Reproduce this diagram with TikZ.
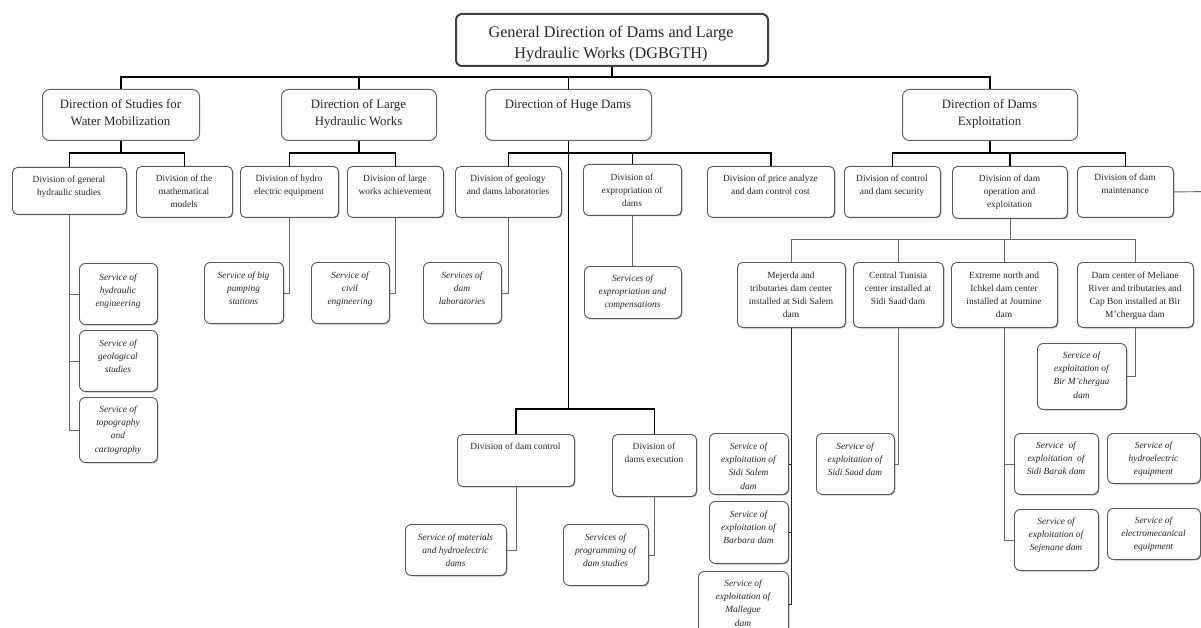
\documentclass[tikz,border=0pt]{standalone}
\usepackage{fontspec}
\setmainfont{Liberation Serif}
\usetikzlibrary{shadows}
\tikzset{
  bx/.style={rounded corners=5pt, fill=white, draw=black!65, line width=0.9pt, inner sep=0pt, anchor=north west},
  topbox/.style={bx, draw=black!75, line width=2pt, rounded corners=6pt},
  dirbox/.style={bx, draw=black!60, line width=1pt, rounded corners=7pt},
  divbox/.style={bx, drop shadow={shadow xshift=0.8pt, shadow yshift=-0.8pt, fill=black!60, opacity=0.8}},
  svcbox/.style={bx, rounded corners=6pt, drop shadow={shadow xshift=0.8pt, shadow yshift=-0.8pt, fill=black!60, opacity=0.8}},
  toptxt/.style={font=\fontsize{16.2}{21}\selectfont, yshift=5.6pt},
  dirtxt/.style={font=\fontsize{12.8}{17}\selectfont, yshift=4.5pt},
  divtxt/.style={font=\fontsize{9.4}{13}\selectfont, yshift=3.3pt},
  svctxt/.style={font=\fontsize{9.4}{13.2}\selectfont\itshape, yshift=3.3pt},
  bus/.style={line width=1.6pt, black},
  sub/.style={line width=1.3pt, black},
  thin/.style={line width=0.9pt, black!60},
}
\newcommand{\orgbox}[9]{%
  \node[#6, minimum width={#4pt-#2pt}, minimum height={#5pt-#3pt}] (#1) at (#2,#3) {};
  \node[#7, anchor=north, align=center, inner sep=0pt, text=black!85] (#1t) at ({(#2+#4)/2},#8) {#9};
}
\begin{document}
\begin{tikzpicture}[x=1pt,y=-1pt]
\fill[white] (0,0) rectangle (1201,628);
\useasboundingbox (0,0) rectangle (1201,628);

% top
\orgbox{top}{455}{13}{767}{65}{topbox}{toptxt}{31}{General Direction of Dams and Large\\Hydraulic Works (DGBGTH)}

% directions
\orgbox{d1}{42}{89}{199}{140}{dirbox}{dirtxt}{104}{Direction of Studies for\\Water Mobilization}
\orgbox{d2}{281}{89}{436}{140}{dirbox}{dirtxt}{104}{Direction of Large\\Hydraulic Works}
\orgbox{d3}{485}{89}{651}{140}{dirbox}{dirtxt}{104}{Direction of Huge Dams}
\orgbox{d4}{902}{89}{1077}{140}{dirbox}{dirtxt}{104}{Direction of Dams\\Exploitation}

% divisions
\orgbox{dv1}{12}{167}{126}{214}{divbox}{divtxt}{179}{Division of general\\hydraulic studies}
\orgbox{dv2}{136}{166}{232}{217}{divbox}{divtxt}{178}{Division of the\\mathematical\\models}
\orgbox{dv3}{240}{166}{338}{217}{divbox}{divtxt}{178}{Division of hydro\\electric equipment}
\orgbox{dv4}{347}{166}{443}{217}{divbox}{divtxt}{178}{Division of large\\works achievement}
\orgbox{dv5}{455}{166}{561}{217}{divbox}{divtxt}{178}{Division of geology\\and dams laboratories}
\orgbox{dv6}{583}{164}{681}{215}{divbox}{divtxt}{177}{Division of\\expropriation of\\dams}
\orgbox{dv7}{707}{166}{834}{217}{divbox}{divtxt}{178}{Division of price analyze\\and dam control cost}
\orgbox{dv8}{844}{166}{940}{217}{divbox}{divtxt}{178}{Division of control\\and dam security}
\orgbox{dv9}{952}{166}{1067}{218}{divbox}{divtxt}{178}{Division of dam\\operation and\\exploitation}
\orgbox{dv10}{1077}{166}{1173}{217}{divbox}{divtxt}{177}{Division of dam\\maintenance}
\orgbox{dv11}{457}{434}{574}{486}{divbox}{divtxt}{446}{Division of dam control}
\orgbox{dv12}{612}{434}{696}{496}{divbox}{divtxt}{446}{Division of\\dams execution}

% dam centers
\orgbox{c1}{737}{262}{845}{327}{divbox}{divtxt}{275}{Mejerda and\\tributaries dam center\\installed at Sidi Salem\\dam}
\orgbox{c2}{853}{262}{943}{327}{divbox}{divtxt}{275}{Central Tunisia\\center installed at\\Sidi Saad dam}
\orgbox{c3}{951}{262}{1057}{327}{divbox}{divtxt}{275}{Extreme north and\\Ichkel dam center\\installed at Joumine\\dam}
\orgbox{c4}{1077}{262}{1193}{327}{divbox}{divtxt}{275}{Dam center of Meliane\\River and tributaries and\\Cap Bon installed at Bir\\M'chergua dam}

% services
\orgbox{s1}{79}{263}{157}{324}{svcbox}{svctxt}{277}{Service of\\hydraulic\\engineering}
\orgbox{s2}{79}{330}{157}{391}{svcbox}{svctxt}{343}{Service of\\geological\\studies}
\orgbox{s3}{79}{397}{157}{462}{svcbox}{svctxt}{409}{Service of\\topography\\and\\cartography}
\orgbox{s4}{204}{262}{283}{323}{svcbox}{svctxt}{275}{Service of big\\pumping\\stations}
\orgbox{s5}{311}{262}{389}{323}{svcbox}{svctxt}{275}{Service of\\civil\\engineering}
\orgbox{s6}{423}{262}{501}{323}{svcbox}{svctxt}{275}{Services of\\dam\\laboratories}
\orgbox{s7}{584}{266}{681}{318}{svcbox}{svctxt}{278}{Services of\\expropriation and\\compensations}
\orgbox{s8}{405}{524}{506}{575}{svcbox}{svctxt}{537}{Service of materials\\and hydroelectric\\dams}
\orgbox{s9}{563}{524}{648}{585}{svcbox}{svctxt}{537}{Services of\\programming of\\dam studies}
\orgbox{s10}{709}{433}{788}{494}{svcbox}{svctxt}{446}{Service of\\exploitation of\\Sidi Salem\\dam}
\orgbox{s11}{709}{501}{788}{563}{svcbox}{svctxt}{514}{Service of\\exploitation of\\Barbara dam}
\orgbox{s12}{698}{571}{788}{636}{svcbox}{svctxt}{583}{Service of\\exploitation of\\Mallegue\\dam}
\orgbox{s13}{816}{433}{894}{494}{svcbox}{svctxt}{446}{Service of\\exploitation of\\Sidi Saad dam}
\orgbox{s14}{1037}{343}{1126}{409}{svcbox}{svctxt}{355}{Service of\\exploitation of\\Bir M'chergua\\dam}
\orgbox{s15}{1014}{433}{1098}{494}{svcbox}{svctxt}{445}{Service\ \ of\\exploitation\ \ of\\Sidi Barak dam}
\orgbox{s16}{1107}{433}{1200}{483}{svcbox}{svctxt}{445}{Service of\\hydroelectric\\equipment}
\orgbox{s17}{1014}{509}{1098}{570}{svcbox}{svctxt}{521}{Service of\\exploitation of\\Sejenane dam}
\orgbox{s18}{1107}{508}{1200}{559}{svcbox}{svctxt}{520}{Service of\\electromecanical\\equipment}

% junction levels
\coordinate (j0) at (611,77);
\coordinate (j1) at (0,153);
\coordinate (j2) at (0,409);
\coordinate (j3) at (0,239);
\coordinate (offR) at (1210,191.5);

% top level
\draw[bus] (top.south) -- (top.south |- j0);
\draw[bus] (d1.north) -- (d1.north |- j0) -- (d4.north |- j0) -- (d4.north);
\draw[bus] (d2.north) -- (d2.north |- j0);
\draw[bus] (d3.north) -- (d3.north |- j0);

% second level
\draw[sub] (d1.south) -- (d1.south |- j1);
\draw[sub] (dv1.north) -- (dv1.north |- j1) -- (dv2.north |- j1) -- (dv2.north);
\draw[sub] (d2.south) -- (d2.south |- j1);
\draw[sub] (dv3.north) -- (dv3.north |- j1) -- (dv4.north |- j1) -- (dv4.north);
\draw[sub] (d3.south) -- (d3.south |- j2);
\draw[sub] (dv5.north) -- (dv5.north |- j1) -- (dv7.north |- j1) -- (dv7.north);
\draw[sub] (dv6.north) -- (dv6.north |- j1);
\draw[sub] (d4.south) -- (d4.south |- j1);
\draw[sub] (dv8.north) -- (dv8.north |- j1) -- (dv10.north |- j1) -- (dv10.north);
\draw[sub] (dv9.north) -- (dv9.north |- j1);
\draw[sub] (dv11.north) -- (dv11.north |- j2) -- (dv12.north |- j2) -- (dv12.north);

% lower connectors
\draw[thin] (dv1.south) |- (s3.west);
\draw[thin] (dv1.south |- s1.west) -- (s1.west);
\draw[thin] (dv1.south |- s2.west) -- (s2.west);
\draw[thin] (dv3.south) |- (s4.east);
\draw[thin] (dv4.south) |- (s5.east);
\draw[thin] (dv5.south) |- (s6.east);
\draw[thin] (dv6.south) -- (dv6.south |- s7.north);
\draw[thin] (dv9.south) -- (dv9.south |- j3);
\draw[thin] (c1.north) -- (c1.north |- j3) -- (c4.north |- j3) -- (c4.north);
\draw[thin] (c2.north) -- (c2.north |- j3);
\draw[thin] (c3.north) -- (c3.north |- j3);
\draw[thin, black!85] (c1.south) |- (s12.east);
\draw[thin, black!85] (c1.south |- s10.east) -- (s10.east);
\draw[thin, black!85] (c1.south |- s11.east) -- (s11.east);
\draw[thin] (c2.south) |- (s13.east);
\draw[thin] (c3.south) |- (s17.west);
\draw[thin] (c3.south |- s15.west) -- (s15.west);
\draw[thin] (c4.south) |- (s14.east);
\draw[thin] (dv11.south) |- (s8.east);
\draw[thin] (dv12.south) |- (s9.east);
\draw[thin] (dv10.east) -- (offR);
\end{tikzpicture}
\end{document}
